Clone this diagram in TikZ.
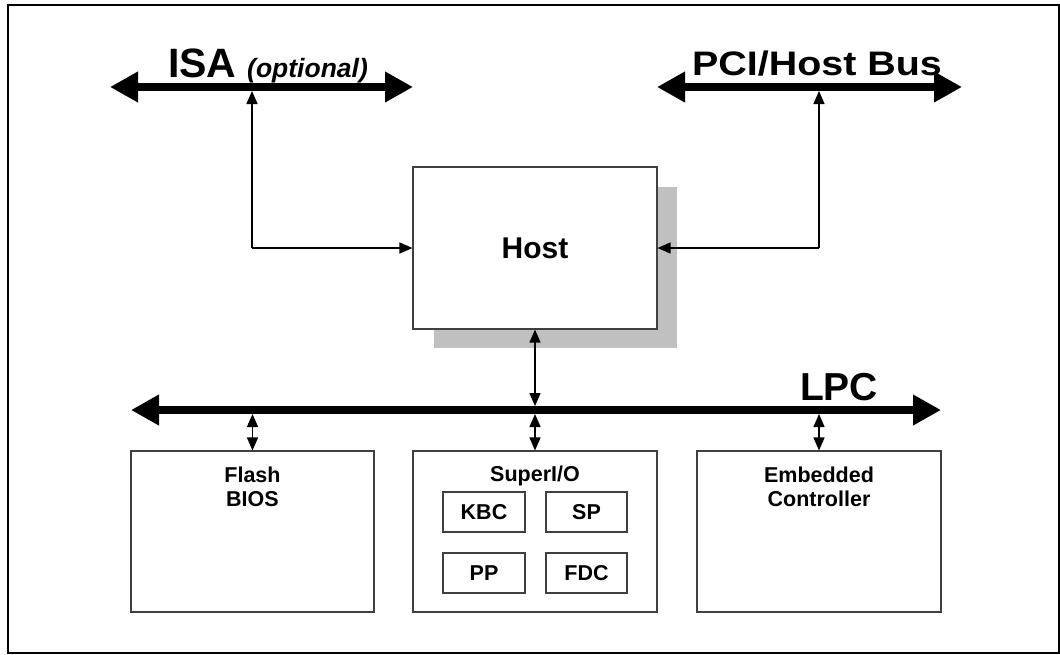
\documentclass[tikz,border=0pt]{standalone}
\usepackage{fontspec}
\setmainfont{Liberation Sans}
\usetikzlibrary{arrows.meta}
\definecolor{shadowgray}{HTML}{C0C0C0}
\definecolor{boxline}{HTML}{404040}
\begin{document}
\begin{tikzpicture}[x=1pt,y=-1pt,
  busline/.style={line width=8.5pt,{Triangle[length=28pt,width=29pt]}-{Triangle[length=28pt,width=29pt]}},
  link/.style={line width=1.4pt,-{Triangle[length=13pt,width=11pt]}},
  dlink/.style={line width=1.4pt,{Triangle[length=13pt,width=11pt]}-{Triangle[length=13pt,width=11pt]}},
  blk/.style={draw=boxline,line width=1.1pt,fill=white,inner sep=0pt},
  lbl/.style={font=\fontsize{21.5}{25}\selectfont\bfseries,inner sep=0pt}
]
\useasboundingbox (0,0) rectangle (1060,654);
\draw[line width=2pt] (8,5) rectangle (1059,652.5);

% buses
\coordinate (isaL) at (110,87);
\coordinate (isaR) at (413,87);
\coordinate (pciL) at (657,87);
\coordinate (pciR) at (962,87);
\coordinate (lpcL) at (131,410);
\coordinate (lpcR) at (941,410);
\draw[busline] (isaL) -- (isaR);
\draw[busline] (pciL) -- (pciR);
\draw[busline] (lpcL) -- (lpcR);

\node[anchor=base west,inner sep=0pt,font=\fontsize{41}{48}\selectfont\bfseries] (isatext) at (168,77) {ISA};
\node[anchor=base west,inner sep=0pt,font=\fontsize{26.5}{30}\selectfont\bfseries\itshape] (opttext) at (247,77) {(optional)};
\node[anchor=base,inner sep=0pt,font=\fontsize{34}{40}\selectfont\bfseries] (pcitext) at (817,75) {\scalebox{1.16}[1]{PCI/Host Bus}};
\node[anchor=base,inner sep=0pt,font=\fontsize{39}{46}\selectfont\bfseries] (lpctext) at (839,400) {LPC};

% host
\fill[shadowgray] (434,187) rectangle (677,348);
\node[blk,minimum width=244pt,minimum height=162pt,font=\fontsize{30}{36}\selectfont\bfseries] (host) at (535,248) {Host};

% bottom boxes
\node[blk,minimum width=243pt,minimum height=161pt] (flash) at (252.5,531.5) {};
\node[blk,minimum width=244pt,minimum height=161pt] (sio) at (535,531.5) {};
\node[blk,minimum width=244pt,minimum height=161pt] (ec) at (819,531.5) {};
\node[lbl,anchor=base] (sioT) at (535,481) {SuperI/O};
\node[lbl,anchor=base] (fl1) at (252.5,482) {Flash};
\node[lbl,anchor=base] (fl2) at (252.5,506) {BIOS};
\node[lbl,anchor=base] (ec1) at (819,482) {Embedded};
\node[lbl,anchor=base] (ec2) at (819,506) {Controller};

\node[blk,minimum width=82pt,minimum height=40pt,font=\fontsize{21.5}{25}\selectfont\bfseries] (kbc) at (484,512) {KBC};
\node[blk,minimum width=81pt,minimum height=40pt,font=\fontsize{21.5}{25}\selectfont\bfseries] (sp) at (586.5,512) {SP};
\node[blk,minimum width=82pt,minimum height=40pt,font=\fontsize{21.5}{25}\selectfont\bfseries] (pp) at (484,573) {PP};
\node[blk,minimum width=81pt,minimum height=40pt,font=\fontsize{21.5}{25}\selectfont\bfseries] (fdc) at (586.5,573) {FDC};

% connectors
\coordinate (isaTap) at (252,91);
\coordinate (isaCorner) at (252,248);
\coordinate (pciTap) at (819,91);
\coordinate (pciCorner) at (819,248);
\draw[link] (isaCorner) -- (isaTap);
\draw[link] (isaCorner) -- (host.west |- isaCorner);
\draw[link] (pciCorner) -- (pciTap);
\draw[link] (pciCorner) -- (host.east |- pciCorner);

\coordinate (lpcTopH) at (535,406);
\coordinate (lpcBotF) at (252.5,414);
\coordinate (lpcBotS) at (535,414);
\coordinate (lpcBotE) at (819,414);
\draw[dlink] (host.south) -- (lpcTopH);
\draw[dlink] (lpcBotF) -- (flash.north);
\draw[dlink] (lpcBotS) -- (sio.north);
\draw[dlink] (lpcBotE) -- (ec.north);
\end{tikzpicture}
\end{document}
